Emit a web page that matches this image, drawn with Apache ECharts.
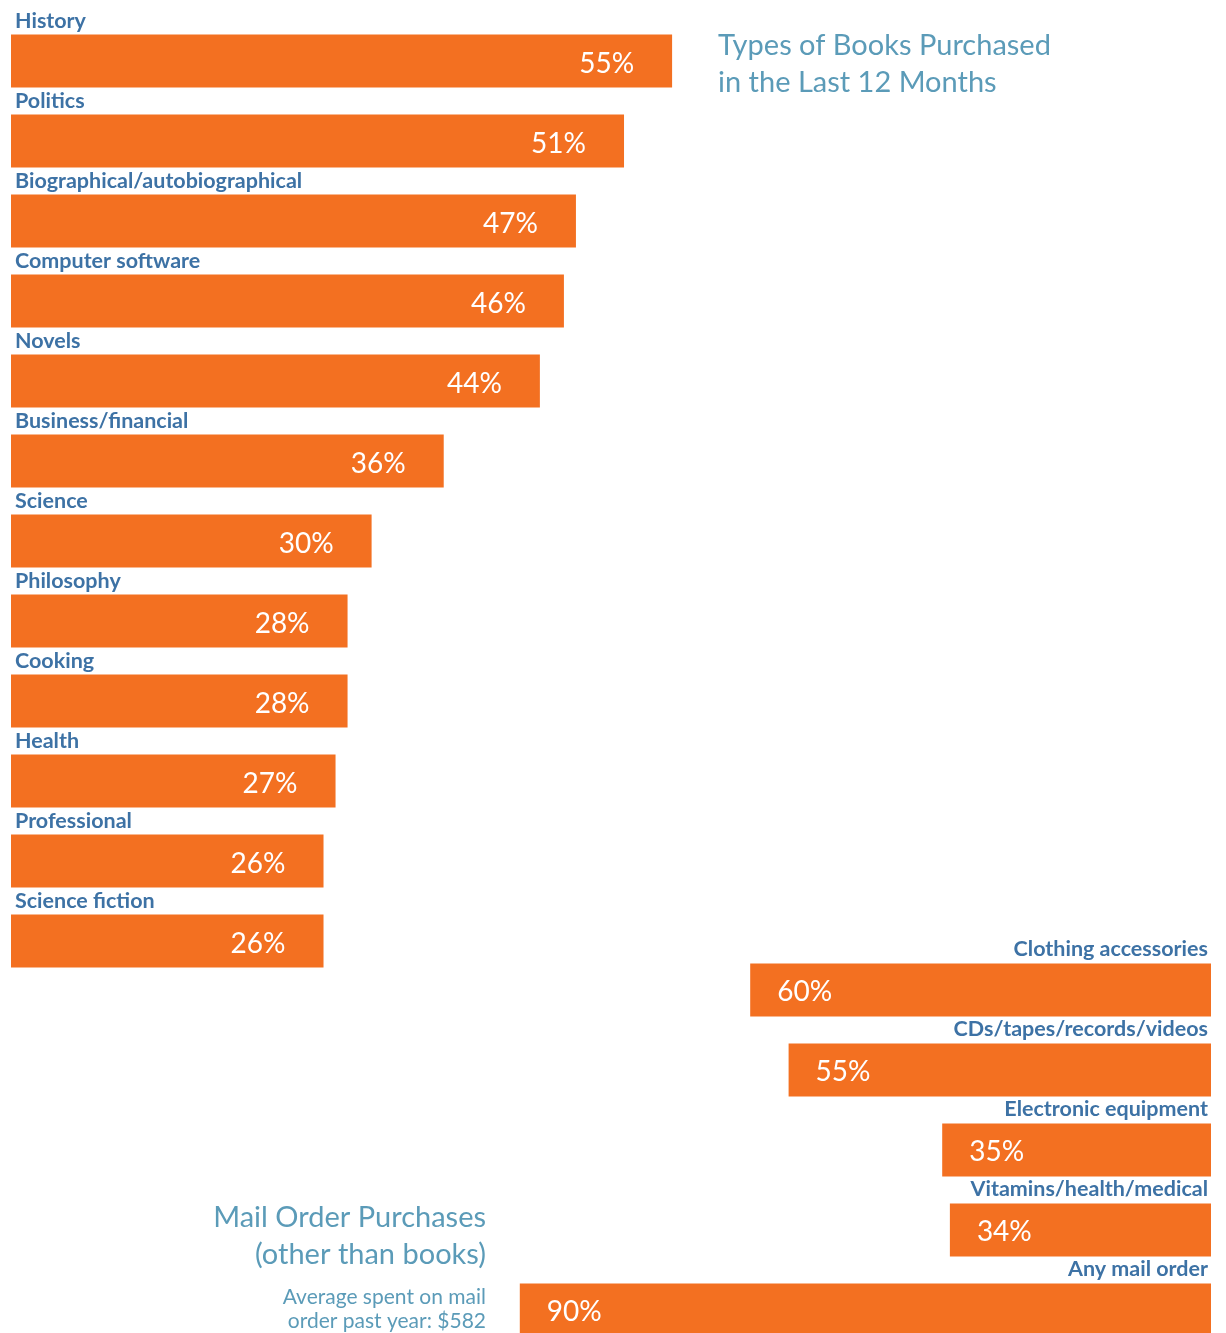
<!DOCTYPE html>
<html>
<head>
<meta charset="utf-8">
<script src="https://cdn.jsdelivr.net/npm/echarts@6/dist/echarts.min.js"></script>
<style>html,body{margin:0;padding:0;background:#fff;}#c{width:1226px;height:1333px;}</style>
</head>
<body>
<div id="c"></div>
<script>
const bookCats = ['History','Politics','Biographical/autobiographical','Computer software','Novels','Business/financial','Science','Philosophy','Cooking','Health','Professional','Science fiction'];
const bookVals = [55,51,47,46,44,36,30,28,28,27,26,26];
const mailCats = ['Clothing accessories','CDs/tapes/records/videos','Electronic equipment','Vitamins/health/medical','Any mail order'];
const mailVals = [60,55,35,34,90];

const ORANGE = '#F37021';
const BLUE = '#3D72A5';
const TITLE = '#5B9BB8';
const FONT = 'Lato';

const chart = echarts.init(document.getElementById('c'), null, {renderer: 'canvas'});
chart.setOption({
  animation: false,
  grid: [
    {left: 11, width: 1202, top: 21, height: 960, outerBoundsMode: 'none', containLabel: false},
    {left: 443, width: 768, top: 950, height: 400, outerBoundsMode: 'none', containLabel: false}
  ],
  xAxis: [
    {type: 'value', gridIndex: 0, min: 0, max: 100, show: false},
    {type: 'value', gridIndex: 1, min: 0, max: 100, inverse: true, show: false}
  ],
  yAxis: [
    {type: 'category', gridIndex: 0, data: bookCats, inverse: true, show: false},
    {type: 'category', gridIndex: 1, data: mailCats, inverse: true, show: false}
  ],
  series: [
    {
      type: 'bar', xAxisIndex: 0, yAxisIndex: 0, data: bookVals, barWidth: 53,
      itemStyle: {color: ORANGE},
      label: {show: true, position: 'insideRight', distance: 38, offset: [0, 3],
        formatter: '{c}%', color: '#fff', fontFamily: FONT, fontSize: 28}
    },
    {
      type: 'bar', xAxisIndex: 0, yAxisIndex: 0, data: bookVals, barWidth: 53, barGap: '-100%',
      itemStyle: {color: 'rgba(0,0,0,0)'}, silent: true,
      label: {show: true, position: [4, -13], align: 'left', verticalAlign: 'middle',
        formatter: '{b}', color: BLUE, fontFamily: FONT, fontWeight: 'bold', fontSize: 21.5}
    },
    {
      type: 'bar', xAxisIndex: 1, yAxisIndex: 1, data: mailVals, barWidth: 53,
      itemStyle: {color: ORANGE},
      label: {show: true, position: 'insideLeft', distance: 27, offset: [0, 2],
        formatter: '{c}%', color: '#fff', fontFamily: FONT, fontSize: 28}
    },
    {
      type: 'bar', xAxisIndex: 1, yAxisIndex: 1, data: mailVals, barWidth: 53, barGap: '-100%',
      itemStyle: {color: 'rgba(0,0,0,0)'}, silent: true,
      label: {show: true, position: ['100%', -14], offset: [-3, 0], align: 'right', verticalAlign: 'middle',
        formatter: '{b}', color: BLUE, fontFamily: FONT, fontWeight: 'bold', fontSize: 21.5}
    }
  ],
  graphic: [
    {type: 'text', style: {text: 'Types of Books Purchased', x: 718, y: 46, fill: TITLE, fontFamily: FONT, fontSize: 29, textAlign: 'left', textVerticalAlign: 'middle'}},
    {type: 'text', style: {text: 'in the Last 12 Months', x: 718, y: 83, fill: TITLE, fontFamily: FONT, fontSize: 29, textAlign: 'left', textVerticalAlign: 'middle'}},
    {type: 'text', style: {text: 'Mail Order Purchases', x: 486, y: 1218, fill: TITLE, fontFamily: FONT, fontSize: 29, textAlign: 'right', textVerticalAlign: 'middle'}},
    {type: 'text', style: {text: '(other than books)', x: 486, y: 1255, fill: TITLE, fontFamily: FONT, fontSize: 29, textAlign: 'right', textVerticalAlign: 'middle'}},
    {type: 'text', style: {text: 'Average spent on mail', x: 486, y: 1297, fill: TITLE, fontFamily: FONT, fontSize: 21, textAlign: 'right', textVerticalAlign: 'middle'}},
    {type: 'text', style: {text: 'order past year: $582', x: 486, y: 1321, fill: TITLE, fontFamily: FONT, fontSize: 21, textAlign: 'right', textVerticalAlign: 'middle'}}
  ]
});
</script>
</body>
</html>
